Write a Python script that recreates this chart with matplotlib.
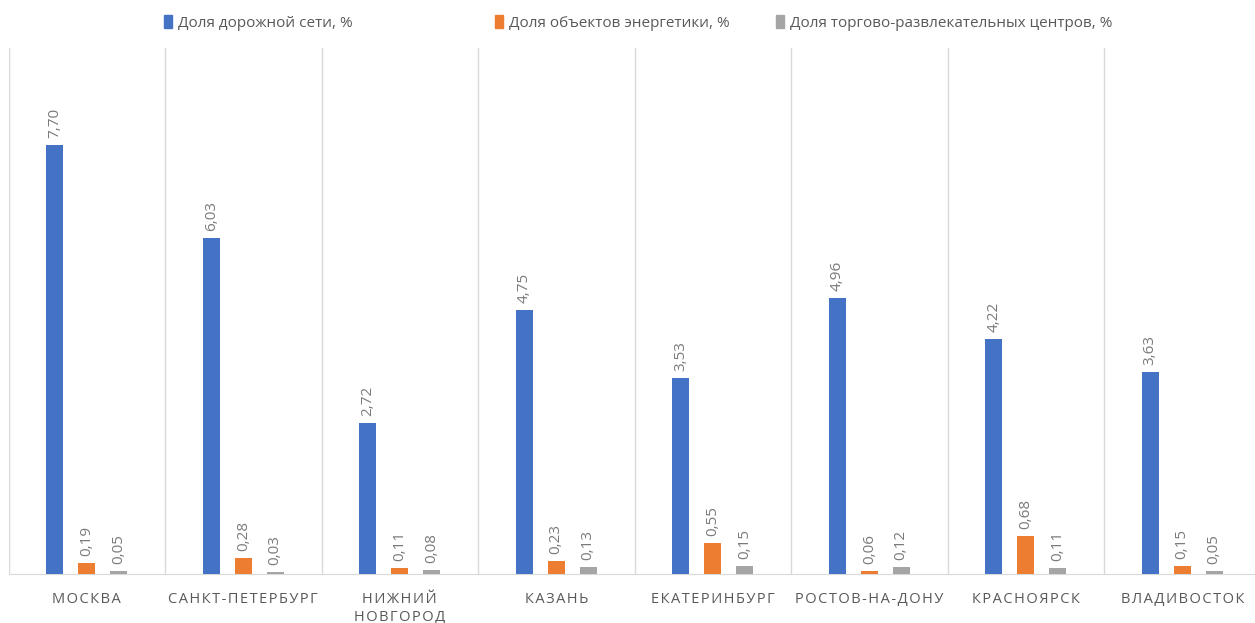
import matplotlib
matplotlib.use("Agg")
import matplotlib.pyplot as plt
from matplotlib.patches import Patch
import numpy as np

plt.rcParams['font.family'] = ['Open Sans', 'DejaVu Sans']

cities = ["МОСКВА", "САНКТ-ПЕТЕРБУРГ", "НИЖНИЙ\nНОВГОРОД", "КАЗАНЬ",
          "ЕКАТЕРИНБУРГ", "РОСТОВ-НА-ДОНУ", "КРАСНОЯРСК", "ВЛАДИВОСТОК"]
series_names = ["Доля дорожной сети, %", "Доля объектов энергетики, %",
                "Доля торгово-развлекательных центров, %"]
road = [7.70, 6.03, 2.72, 4.75, 3.53, 4.96, 4.22, 3.63]
energy = [0.19, 0.28, 0.11, 0.23, 0.55, 0.06, 0.68, 0.15]
malls = [0.05, 0.03, 0.08, 0.13, 0.15, 0.12, 0.11, 0.05]
colors = ["#4472C4", "#ED7D31", "#A5A5A5"]

W, H = 1255, 623
fig = plt.figure(figsize=(W / 100, H / 100), dpi=100)
left_px, right_px, top_px, bot_px = 8.5, 1260.5, 48, 574
ax = fig.add_axes([left_px / W, 1 - bot_px / H, (right_px - left_px) / W, (bot_px - top_px) / H])

x = np.arange(len(cities))
bw = 0.109
off = 0.204
txt_color = "#595959"
for i, (vals, c, name) in enumerate(zip([road, energy, malls], colors, series_names)):
    pos = x + (i - 1) * off
    ax.bar(pos, vals, width=bw, color=c, label=name, zorder=3)
    for p, v in zip(pos, vals):
        ax.annotate(f"{v:.2f}".replace(".", ","), (p, v), xytext=(0, 5),
                    textcoords="offset points", rotation=90, ha="center", va="bottom",
                    fontsize=11, color="#7a7a7a")

ax.set_xlim(-0.5, len(cities) - 0.5)
ax.set_ylim(0, 9.45)
ax.set_yticks([])
ax.set_xticks(x)
sp = "\u200a"
spaced = [sp.join(list(c)).replace(sp + "\n" + sp, "\n") for c in cities]
ax.set_xticklabels(spaced, fontsize=10.5, color=txt_color, linespacing=1.25)
ax.tick_params(axis="x", length=0, pad=13)
ax.set_xticks(np.arange(-0.5, len(cities) + 0.5, 1), minor=True)
ax.tick_params(axis="x", which="minor", length=0)
ax.grid(axis="x", which="minor", color="#d9d9d9", linewidth=1, zorder=0)
for s in ["top", "right", "left"]:
    ax.spines[s].set_visible(False)
ax.spines["bottom"].set_color("#d9d9d9")

leg_x = [164, 495, 776]
for lx, c, name in zip(leg_x, colors, series_names):
    fig.legend(handles=[Patch(color=c, label=name)], loc="upper left",
               bbox_to_anchor=(lx / W, 1 - 15 / H), frameon=False, borderpad=0,
               borderaxespad=0, fontsize=11, labelcolor=txt_color,
               handlelength=0.5, handleheight=0.9, handletextpad=0.4)

fig.savefig("out.png", dpi=100)
